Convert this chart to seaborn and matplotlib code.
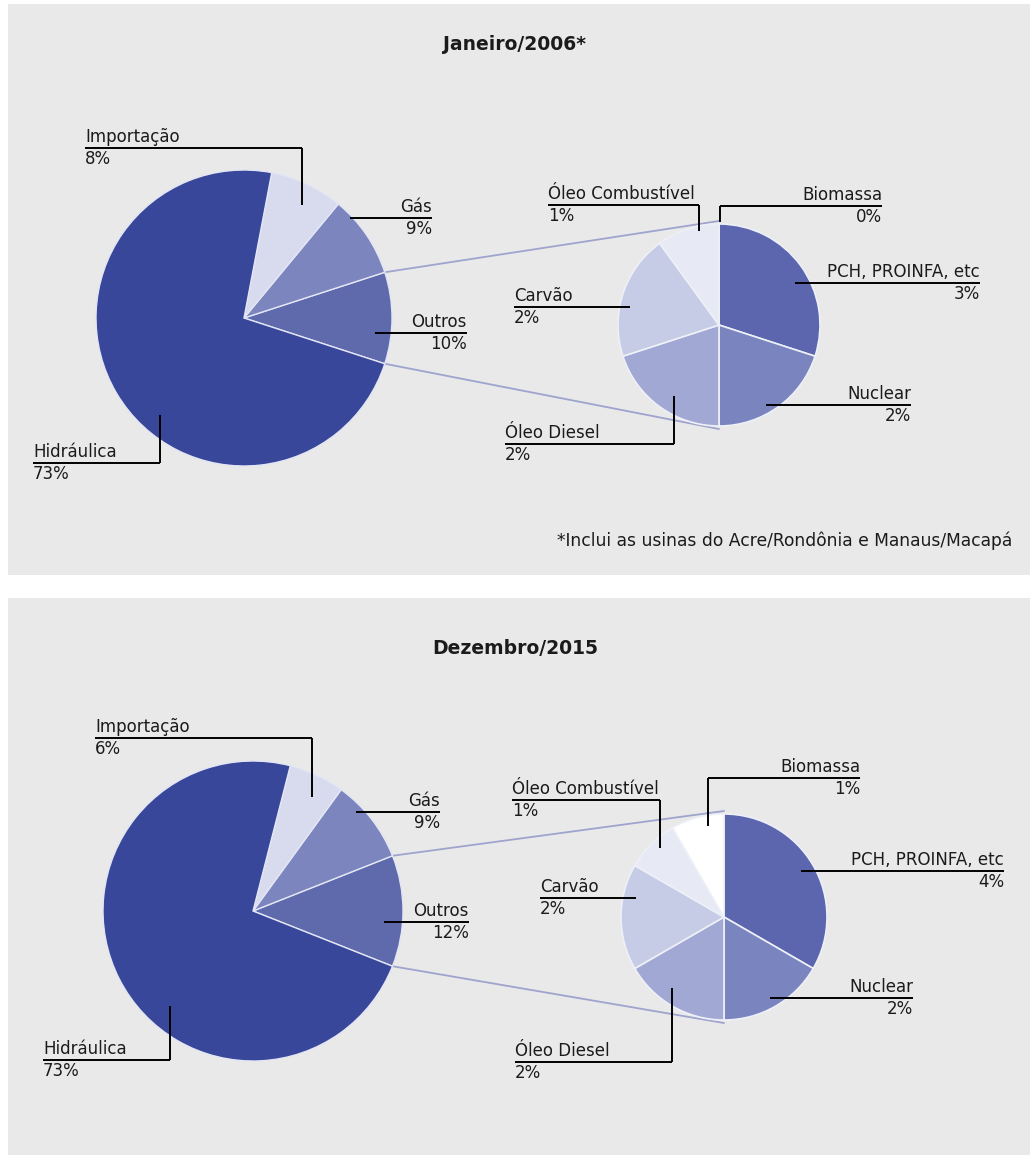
import numpy as np
import matplotlib
matplotlib.use("Agg")
import matplotlib.pyplot as plt
from matplotlib.patches import Rectangle
import seaborn as sns

# ---------------- data ----------------
main_labels = ["Outros", "Gás", "Importação", "Hidráulica"]
main_2006 = [10, 9, 8, 73]
main_2015 = [12, 9, 6, 73]
sub_labels = ["PCH, PROINFA, etc", "Nuclear", "Óleo Diesel", "Carvão",
              "Óleo Combustível", "Biomassa"]
sub_2006 = [3, 2, 2, 2, 1, 0]
sub_2015 = [4, 2, 2, 2, 1, 1]
titles = ["Janeiro/2006*", "Dezembro/2015"]
footnote = "*Inclui as usinas do Acre/Rondônia e Manaus/Macapá"

main_colors = ["#5f6aad", "#7c85be", "#d7dbed", "#38479a"]
sub_colors = ["#5b66ae", "#7a84bf", "#a1a8d3", "#c7cce6", "#e7e9f4", "#ffffff"]

# ---------------- layout (pixels, y down) ----------------
W, H = 1030, 1157
sns.set_theme(style="white")
plt.rcParams['font.family'] = ['DejaVu Sans']

fig = plt.figure(figsize=(W / 100, H / 100), dpi=100)
ax = fig.add_axes([0, 0, 1, 1])


def Y(y):
    return H - y


panels = [
    dict(rect=(8, 4, 1030, 575), title=(515, 45),
         main_c=(244, 318), main_r=148, sub_c=(719, 325), sub_r=101,
         main=main_2006, sub=sub_2006,
         lab_main={
             "Importação": (85, 148, "left", 85, 302, 302, 205),
             "Gás": (432, 218, "right", 350, 432, None, None),
             "Outros": (467, 333, "right", 375, 467, None, None),
             "Hidráulica": (33, 463, "left", 33, 160, 160, 415),
         },
         lab_sub={
             "Óleo Combustível": (548, 205, "left", 548, 699, 699, 231),
             "Biomassa": (882, 206, "right", 720, 882, 720, 222),
             "PCH, PROINFA, etc": (980, 283, "right", 795, 980, None, None),
             "Carvão": (514, 307, "left", 514, 630, None, None),
             "Nuclear": (911, 405, "right", 766, 911, None, None),
             "Óleo Diesel": (505, 444, "left", 505, 674, 674, 396),
         },
         foot=True),
    dict(rect=(8, 598, 1030, 1155), title=(515, 648),
         main_c=(253, 911), main_r=150, sub_c=(724, 917), sub_r=103,
         main=main_2015, sub=sub_2015,
         lab_main={
             "Importação": (95, 738, "left", 95, 312, 312, 797),
             "Gás": (440, 812, "right", 356, 440, None, None),
             "Outros": (469, 922, "right", 384, 469, None, None),
             "Hidráulica": (43, 1060, "left", 43, 170, 170, 1006),
         },
         lab_sub={
             "Óleo Combustível": (512, 800, "left", 512, 660, 660, 848),
             "Biomassa": (860, 778, "right", 708, 860, 708, 826),
             "PCH, PROINFA, etc": (1004, 871, "right", 801, 1004, None, None),
             "Carvão": (540, 898, "left", 540, 636, None, None),
             "Nuclear": (913, 998, "right", 770, 913, None, None),
             "Óleo Diesel": (515, 1062, "left", 515, 672, 672, 988),
         },
         foot=False),
]

FS = 12
TXT = "#1b1b1b"


def label(name, pct, spec):
    tx, ly, ha, x0, x1, vx, vy = spec
    ax.plot([x0, x1], [Y(ly), Y(ly)], color="black", lw=1.4, zorder=6,
            solid_capstyle="butt")
    if vx is not None:
        ax.plot([vx, vx], [Y(ly), Y(vy)], color="black", lw=1.4, zorder=6,
                solid_capstyle="butt")
    ax.text(tx, Y(ly) + 2, name, ha=ha, va="bottom", fontsize=FS, color=TXT,
            zorder=7)
    ax.text(tx, Y(ly) - 2, f"{pct}%", ha=ha, va="top", fontsize=FS, color=TXT,
            zorder=7)


for p in panels:
    x0, y0, x1, y1 = p["rect"]
    ax.add_patch(Rectangle((x0, Y(y1)), x1 - x0, y1 - y0,
                           facecolor="#e9e9e9", edgecolor="none", zorder=0))

for i, p in enumerate(panels):
    ax.text(p["title"][0], Y(p["title"][1]), titles[i], ha="center",
            va="center", fontsize=13.5, fontweight="bold", color=TXT, zorder=7)

    mc = (p["main_c"][0], Y(p["main_c"][1]))
    sc = (p["sub_c"][0], Y(p["sub_c"][1]))
    half = p["main"][0] * 3.6 / 2.0

    ax.pie(p["main"], colors=main_colors, startangle=-half, counterclock=True,
           center=mc, radius=p["main_r"], frame=True,
           wedgeprops=dict(edgecolor="#e3e6f4", linewidth=1.0, zorder=3))
    ax.pie(p["sub"], colors=sub_colors, startangle=90, counterclock=False,
           center=sc, radius=p["sub_r"], frame=True,
           wedgeprops=dict(edgecolor="#eef0f8", linewidth=1.2, zorder=3))

    # connector lines from the "Outros" slice to the secondary pie
    for sgn in (1, -1):
        a = np.deg2rad(sgn * half)
        px = mc[0] + p["main_r"] * np.cos(a)
        py = mc[1] + p["main_r"] * np.sin(a)
        qx, qy = sc[0], sc[1] + sgn * (p["sub_r"] + 3)
        ax.plot([px, qx], [py, qy], color="#9ea4cd", lw=1.3, zorder=2)

    for name, v in zip(main_labels, p["main"]):
        label(name, v, p["lab_main"][name])
    for name, v in zip(sub_labels, p["sub"]):
        label(name, v, p["lab_sub"][name])

    if p["foot"]:
        ax.text(1012, Y(541), footnote, ha="right", va="center", fontsize=12.3,
                color=TXT, zorder=7)

ax.set_xlim(0, W)
ax.set_ylim(0, H)
ax.set_aspect("equal")
ax.set_axis_off()
fig.patch.set_facecolor("white")
fig.savefig("out.png", dpi=100, facecolor="white")
